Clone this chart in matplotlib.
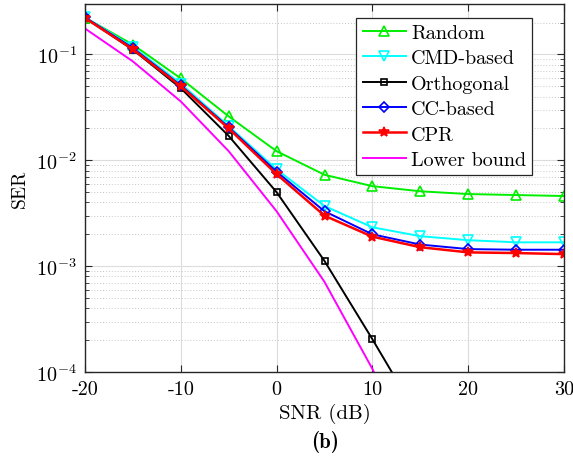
import numpy as np
import matplotlib
matplotlib.use("Agg")
import matplotlib.pyplot as plt
from matplotlib.ticker import LogLocator, NullFormatter

plt.rcParams['font.family'] = ['cmr10', 'DejaVu Serif']
plt.rcParams['mathtext.fontset'] = 'cm'
plt.rcParams['axes.unicode_minus'] = False
plt.rcParams['axes.formatter.use_mathtext'] = True

snr = [-20, -15, -10, -5, 0, 5, 10, 15, 20, 25, 30]
random_ser = [0.223, 0.124, 0.0594, 0.026, 0.0122, 0.0073, 0.0057, 0.0051, 0.0048, 0.0047, 0.0046]
cmd_ser = [0.225, 0.118, 0.053, 0.021, 0.0082, 0.0037, 0.00233, 0.00192, 0.00176, 0.00168, 0.00168]
ortho_ser = [0.222, 0.111, 0.048, 0.017, 0.0050, 0.00112, 0.000204, 3.5e-5, 6e-6, 1e-6, 2e-7]
cc_ser = [0.224, 0.115, 0.051, 0.0205, 0.0078, 0.0033, 0.0020, 0.0016, 0.00145, 0.00143, 0.00143]
cpr_ser = [0.221, 0.112, 0.050, 0.020, 0.0074, 0.0030, 0.0019, 0.00151, 0.00135, 0.00133, 0.0013]
lower_ser = [0.176, 0.086, 0.036, 0.0122, 0.0033, 0.00071, 0.000107, 1.1e-5, 1e-6, 1e-7, 1e-8]

xticks = [-20, -10, 0, 10, 20, 30]
xticklabels = ['-20', '-10', '0', '10', '20', '30']

fig = plt.figure(figsize=(5.73, 4.6), dpi=100)
ax = fig.add_axes([85/573, 1-373/460, 479/573, 368/460])

lw = 1.4
ax.semilogy(snr, random_ser, color='#00ee00', marker='^', mfc='none', mew=1.2, ms=7, lw=lw, label='Random')
ax.semilogy(snr, cmd_ser, color='#00ffff', marker='v', mfc='none', mew=1.2, ms=7, lw=lw, label='CMD-based')
ax.semilogy(snr, ortho_ser, color='black', marker='s', mfc='none', mew=1.2, ms=5, lw=lw, label='Orthogonal')
ax.semilogy(snr, cc_ser, color='#0000ff', marker='D', mfc='none', mew=1.2, ms=5, lw=lw, label='CC-based')
ax.semilogy(snr, cpr_ser, color='#ff0000', marker='*', mfc='#ff0000', mew=1.2, ms=7, lw=1.8, label='CPR')
ax.semilogy(snr, lower_ser, color='#ff00ff', lw=lw, label='Lower bound')

ax.set_xlim(-20, 30)
ax.set_ylim(1e-4, 0.3)
ax.set_xticks(xticks)
ax.set_xticklabels(xticklabels)
ax.yaxis.set_major_locator(LogLocator(base=10, numticks=10))
ax.yaxis.set_minor_locator(LogLocator(base=10, subs=np.arange(2, 10), numticks=20))
ax.yaxis.set_minor_formatter(NullFormatter())

ax.grid(True, which='major', color='#dcdcdc', lw=0.8, ls='-')
ax.grid(True, which='minor', axis='y', color='#c8c8c8', lw=0.7, ls=(0, (1, 2)))
ax.set_axisbelow(True)

ax.tick_params(which='both', direction='in', top=True, right=True, labelsize=14.5, colors='#262626')
ax.tick_params(axis='x', which='major', length=5, pad=6)
ax.tick_params(axis='y', which='major', length=5, pad=6)
ax.tick_params(which='minor', length=3)
for s in ax.spines.values():
    s.set_color('#262626')
    s.set_linewidth(1.0)
for t in ax.get_xticklabels() + ax.get_yticklabels():
    t.set_color('black')

ax.set_xlabel('SNR (dB)', fontsize=15, labelpad=3)
ax.set_ylabel('SER', fontsize=14, labelpad=5)

leg = ax.legend(loc='upper right', bbox_to_anchor=(532/573, 1-19/460), bbox_transform=fig.transFigure,
                fontsize=14.5, frameon=True, fancybox=False, edgecolor='#262626', framealpha=1,
                handlelength=2.15, labelspacing=0.36, borderpad=0.3, handletextpad=0.25, borderaxespad=0)
leg.get_frame().set_linewidth(0.9)

fig.text(325/573, 1-442/460, '(b)', ha='center', va='center', fontsize=15, family=['cmb10', 'DejaVu Serif'])

fig.savefig('out.png', dpi=100)
